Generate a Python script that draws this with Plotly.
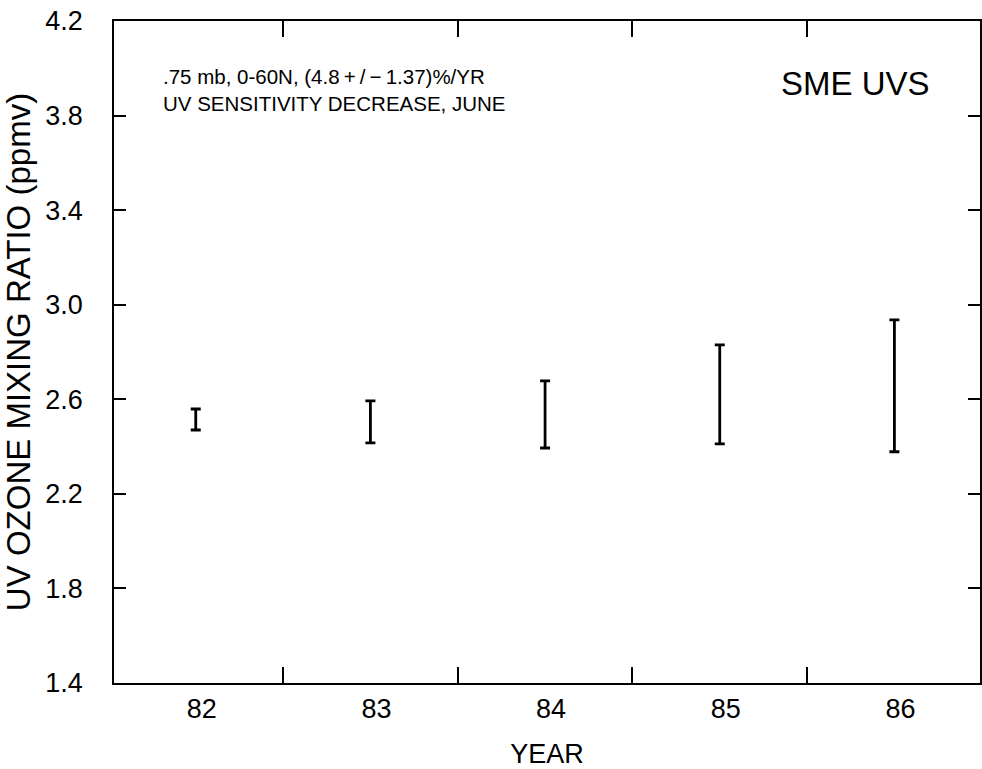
import plotly.graph_objects as go

years = [82, 83, 84, 85, 86]
year_labels = ["82", "83", "84", "85", "86"]
ozone_low = [2.470, 2.416, 2.394, 2.411, 2.378]
ozone_high = [2.559, 2.593, 2.678, 2.830, 2.936]
y_ticks = [1.4, 1.8, 2.2, 2.6, 3.0, 3.4, 3.8, 4.2]
x_minor_ticks = [82.5, 83.5, 84.5, 85.5]

center = [(lo + hi) / 2 for lo, hi in zip(ozone_low, ozone_high)]
err = [hi - c for hi, c in zip(ozone_high, center)]

FONT = "Liberation Sans, Arial, Helvetica, sans-serif"

fig = go.Figure()
fig.add_trace(go.Scatter(
    x=years, y=center, mode="markers",
    marker=dict(size=1, color="rgba(0,0,0,0)"),
    error_y=dict(type="data", array=err, symmetric=True,
                 color="black", thickness=2.8, width=5),
    showlegend=False, hoverinfo="skip",
))
# invisible trace carrying the year-label axis
fig.add_trace(go.Scatter(x=[years[0]], y=[center[0]], xaxis="x2", mode="markers",
                         marker=dict(size=1, color="rgba(0,0,0,0)"),
                         showlegend=False, hoverinfo="skip"))

fig.update_layout(
    width=982, height=769,
    margin=dict(l=114, r=0, t=21, b=86),
    paper_bgcolor="white", plot_bgcolor="white",
    font=dict(family=FONT, color="black", size=27),
    xaxis=dict(
        range=[81.532, 86.49],
        tickmode="array", tickvals=x_minor_ticks, ticktext=["", "", "", ""],
        ticks="inside", ticklen=16, tickwidth=1.5, tickcolor="black",
        showline=True, linecolor="black", linewidth=1.5, mirror="ticks",
        showgrid=False, zeroline=False,
        title=dict(text="YEAR", font=dict(size=27), standoff=55),
    ),
    xaxis2=dict(
        overlaying="x", matches="x", side="bottom",
        tickmode="array", tickvals=years, ticktext=year_labels,
        ticks="", showline=False, showgrid=False, zeroline=False,
        tickfont=dict(size=27), ticklabelshift=6, ticklabelstandoff=7,
    ),
    yaxis=dict(
        range=[1.4, 4.2],
        tickmode="array", tickvals=y_ticks,
        ticktext=[f"{v:.1f}" for v in y_ticks],
        ticks="inside", ticklen=12, tickwidth=1.5, tickcolor="black",
        showline=True, linecolor="black", linewidth=1.5, mirror="ticks",
        showgrid=False, zeroline=False,
        tickfont=dict(size=27), ticklabelstandoff=24,
        title=dict(text="UV OZONE MIXING RATIO (ppmv)", font=dict(size=33), standoff=11),
    ),
)

fig.add_annotation(
    x=0.054, y=0.896, xref="paper", yref="paper", xanchor="left", yanchor="middle",
    text=".75 mb, 0-60N, (4.8\u2009+\u2009/\u2009\u2212\u20091.37)%/YR<br>UV SENSITIVITY DECREASE, JUNE",
    showarrow=False, align="left", font=dict(size=20.5),
)
fig.add_annotation(
    x=0.768, y=0.905, xref="paper", yref="paper", xanchor="left", yanchor="middle",
    text="SME UVS", showarrow=False, font=dict(size=33),
)

fig.write_html(
    "out.html",
    config={"displayModeBar": False},
    post_script="document.body.style.margin='0';document.body.style.overflow='hidden';",
)
